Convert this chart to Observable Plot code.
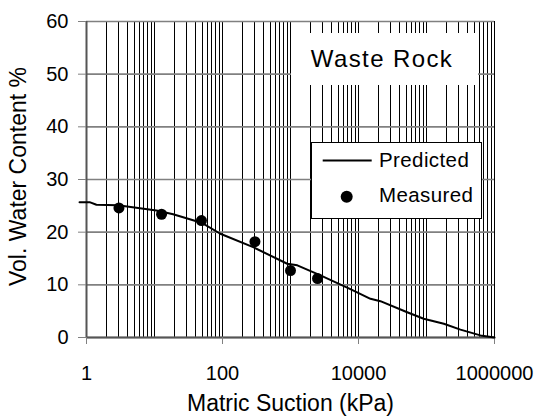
<!DOCTYPE html>
<html>
<head>
<meta charset="utf-8">
<script src="https://cdn.jsdelivr.net/npm/d3@7"></script>
<script src="https://cdn.jsdelivr.net/npm/@observablehq/plot@0.6"></script>
<style>
  html, body { margin: 0; padding: 0; background: #fff; }
  #wrap { position: relative; width: 543px; height: 420px; font-family: "Liberation Sans", Arial, sans-serif; }
  #wrap svg { display: block; }
  #overlay { position: absolute; left: 0; top: 0; pointer-events: none; }
</style>
</head>
<body>
<div id="wrap"></div>
<script>
// Predicted curve (matric suction kPa, vol. water content %)
const predSuction = [0.79, 1.11, 1.40, 2.9, 10.7, 18.8, 49, 93, 288, 895, 1260, 2760, 7600, 15000, 21000, 52000, 91000, 180000, 316000, 620000, 1000000];
const predWater   = [25.7, 25.7, 25.2, 25.1, 24.1, 23.4, 21.8, 19.7, 17.1, 14.0, 13.7, 11.8, 9.2, 7.35, 6.9, 4.8, 3.55, 2.6, 1.5, 0.4, 0];
// Measured points
const measSuction = [3, 12.7, 49, 300, 1000, 2500];
const measWater   = [24.6, 23.4, 22.2, 18.2, 12.7, 11.2];
// Tick labels
const xTicks = [1, 100, 10000, 1000000];
const yTicks = [0, 10, 20, 30, 40, 50, 60];
const xTitle = "Matric Suction (kPa)";
const yTitle = "Vol. Water Content %";
const seriesNames = ["Predicted", "Measured"];
const panelLabel = "Waste Rock";

const predicted = predSuction.map((s, i) => ({s, w: predWater[i]}));
const measured = measSuction.map((s, i) => ({s, w: measWater[i]}));
const xGrid = d3.scaleLog().domain([1, 1e6]).ticks();

const chart = Plot.plot({
  width: 543,
  height: 420,
  marginLeft: 86,
  marginRight: 49,
  marginTop: 21,
  marginBottom: 83,
  style: {fontFamily: '"Liberation Sans", Arial, sans-serif', color: "#000", background: "#fff"},
  x: {type: "log", domain: [1, 1e6]},
  y: {domain: [0, 60]},
  marks: [
    Plot.ruleX(xGrid, {stroke: "#000", strokeWidth: 1, shapeRendering: "crispEdges"}),
    Plot.ruleY(yTicks, {stroke: "#808080", strokeWidth: 1.6}),
    Plot.ruleX([1], {stroke: "#555", strokeWidth: 2}),
    Plot.ruleY([0], {stroke: "#555", strokeWidth: 2}),
    Plot.axisY({ticks: yTicks, tickSize: 8, tickPadding: 10, fontSize: 20, stroke: "#808080", label: null}),
    Plot.axisX({ticks: xTicks, tickFormat: d => String(d), tickSize: 7, tickPadding: 21, fontSize: 20, stroke: "#808080", label: null}),
    Plot.line(predicted, {x: "s", y: "w", stroke: "#000", strokeWidth: 2, clip: false}),
    Plot.dot(measured, {x: "s", y: "w", r: 5.5, fill: "#000", stroke: "none"}),
    Plot.text([xTitle], {frameAnchor: "bottom", lineAnchor: "middle", textAnchor: "middle", dy: 66, fontSize: 23, fill: "#000"}),
    Plot.text([yTitle], {frameAnchor: "left", lineAnchor: "middle", textAnchor: "middle", dx: -68, dy: -3, rotate: -90, fontSize: 23, fill: "#000"})
  ]
});
document.getElementById("wrap").appendChild(chart);

// Overlay: panel label and legend
const ov = d3.select("#wrap").append("svg")
  .attr("id", "overlay").attr("width", 543).attr("height", 420)
  .style("font-family", '"Liberation Sans", Arial, sans-serif');
ov.append("rect").attr("x", 291).attr("y", 33).attr("width", 187).attr("height", 52).attr("fill", "#fff");
ov.append("text").attr("x", 382).attr("y", 66.7).attr("text-anchor", "middle")
  .attr("font-size", 24).attr("letter-spacing", "1.4px").attr("fill", "#000").text(panelLabel);

ov.append("rect").attr("x", 311.5).attr("y", 142.5).attr("width", 170).attr("height", 76)
  .attr("fill", "#fff").attr("stroke", "#000").attr("stroke-width", 1);
ov.append("line").attr("x1", 322.7).attr("x2", 371.7).attr("y1", 160.5).attr("y2", 160.5)
  .attr("stroke", "#000").attr("stroke-width", 2);
ov.append("circle").attr("cx", 346.7).attr("cy", 196.7).attr("r", 6).attr("fill", "#000");
ov.append("text").attr("x", 379).attr("y", 166.7).attr("font-size", 20.5).attr("letter-spacing", "0.4px").attr("fill", "#000").text(seriesNames[0]);
ov.append("text").attr("x", 379).attr("y", 201.7).attr("font-size", 20.5).attr("letter-spacing", "0.4px").attr("fill", "#000").text(seriesNames[1]);
</script>
</body>
</html>
